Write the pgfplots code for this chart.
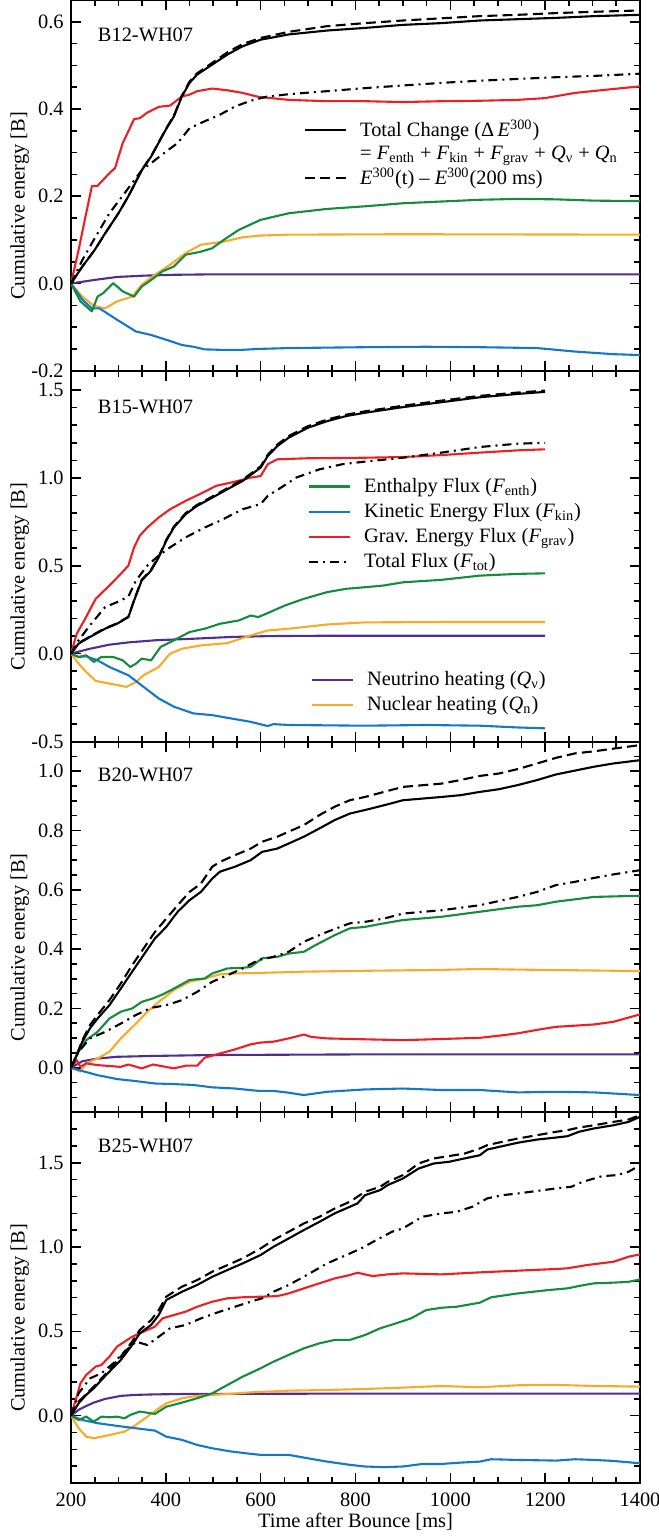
\documentclass[border=0pt]{standalone}
\usepackage{fontspec}
\setmainfont{Liberation Serif}
\usepackage{pgfplots}
\pgfplotsset{compat=1.18}
\definecolor{cgreen}{RGB}{20,140,60}
\definecolor{cblue}{RGB}{20,120,200}
\definecolor{cred}{RGB}{237,30,36}
\definecolor{corange}{RGB}{250,170,40}
\definecolor{cpurple}{RGB}{80,45,145}
\newcommand\myfont{\fontsize{10.2bp}{12bp}\selectfont}
\pgfplotsset{
  panel/.style={
    scale only axis, width=284.5bp, height=185.375bp,
    xmin=200, xmax=1400, xtick={200,400,...,1400}, minor x tick num=3,
    tick align=inside, tick pos=both,
    axis line style={line width=1bp},
    major tick length=5bp, minor tick length=3bp,
    tick style={black, line width=0.8bp},
    xticklabels={},
    yticklabel style={font=\myfont, inner sep=0pt, xshift=-3.5bp},
    ylabel={Cumulative energy [B]},
    every axis y label/.style={at={(rel axis cs:-0.1072,0.445)}, rotate=90, anchor=north, inner sep=0pt, font=\myfont},
    every axis plot/.append style={line width=1.05bp, line join=round},
    legend cell align=left,
    legend image code/.code={\draw[##1, line width=1.05bp] (0bp,0bp) -- (20.5bp,0bp);},
  },
  dsh/.style={dash pattern=on 5bp off 2.6bp},
  dshdot/.style={dash pattern=on 4.5bp off 2.5bp on 1bp off 2.5bp},
}
\begin{document}
\begin{tikzpicture}
\useasboundingbox (-35.5bp,-768bp) rectangle (294bp,0bp);
% ---------------- Panel 1 ----------------
\begin{axis}[panel, at={(0,0)}, anchor=north west,
  ymin=-0.2, ymax=0.65, ytick={-0.2,0,0.2,0.4,0.6}, yticklabels={-0.2,0.0,0.2,0.4,0.6},
  minor ytick={-0.15,-0.1,-0.05,0.05,0.1,0.15,0.25,0.3,0.35,0.45,0.5,0.55},
  legend style={at={(rel axis cs:0.409,0.585)}, anchor=west, draw=none, fill=none, inner sep=0pt, font=\myfont, row sep=3bp, column sep=6.5bp, nodes={inner sep=0pt}}]
\addplot[cpurple, forget plot] coordinates {(200,0) (248,0.008) (297,0.015) (353,0.018) (417,0.020) (498,0.021) (1400,0.021)};
\addplot[corange, forget plot] coordinates {(200,0) (224,-0.030) (248,-0.051) (272,-0.057) (297,-0.041) (329,-0.030) (349,-0.003) (377,0.020) (409,0.043) (442,0.070) (474,0.089) (522,0.096) (562,0.106) (600,0.110) (659,0.112) (900,0.113) (1400,0.112)};
\addplot[cblue, forget plot] coordinates {(200,0) (224,-0.037) (244,-0.057) (260,-0.057) (297,-0.083) (337,-0.110) (369,-0.118) (401,-0.129) (434,-0.141) (458,-0.145) (482,-0.151) (514,-0.152) (562,-0.152) (595,-0.150) (659,-0.148) (820,-0.146) (949,-0.145) (1062,-0.146) (1183,-0.148) (1263,-0.156) (1344,-0.162) (1400,-0.164)};
\addplot[cgreen, forget plot] coordinates {(200,0) (220,-0.041) (244,-0.064) (256,-0.030) (268,-0.022) (289,0.001) (309,-0.018) (333,-0.030) (349,-0.007) (369,0.008) (393,0.028) (417,0.039) (442,0.066) (474,0.073) (498,0.081) (522,0.100) (554,0.123) (600,0.146) (659,0.161) (740,0.171) (820,0.177) (900,0.184) (981,0.188) (1062,0.192) (1142,0.194) (1223,0.193) (1303,0.190) (1400,0.189)};
\addplot[cred, forget plot] coordinates {(200,0) (216,0.077) (232,0.161) (244,0.223) (256,0.224) (281,0.253) (293,0.265) (309,0.322) (321,0.349) (333,0.377) (345,0.379) (361,0.392) (385,0.405) (409,0.408) (434,0.429) (450,0.433) (466,0.441) (498,0.447) (530,0.443) (562,0.437) (595,0.428) (659,0.421) (740,0.418) (820,0.418) (900,0.416) (981,0.418) (1062,0.419) (1142,0.421) (1199,0.425) (1263,0.437) (1344,0.446) (1400,0.452)};
\addplot[black, dshdot, forget plot] coordinates {(200,0) (224,0.054) (248,0.100) (281,0.161) (313,0.207) (350,0.261) (369,0.276) (401,0.303) (425,0.322) (450,0.356) (482,0.372) (514,0.387) (546,0.406) (579,0.419) (611,0.428) (659,0.434) (740,0.441) (820,0.448) (900,0.454) (981,0.460) (1062,0.465) (1142,0.469) (1223,0.473) (1303,0.476) (1400,0.481)};
\addplot[black, dsh, forget plot] coordinates {(200,0) (224,0.039) (250,0.077) (272,0.115) (300,0.161) (321,0.200) (350,0.262) (369,0.292) (400,0.354) (417,0.385) (434,0.431) (450,0.463) (466,0.482) (498,0.506) (530,0.530) (562,0.549) (600,0.563) (659,0.577) (740,0.590) (820,0.597) (900,0.603) (981,0.608) (1062,0.613) (1142,0.616) (1223,0.620) (1303,0.623) (1400,0.626)};
\addplot[black, forget plot] coordinates {(200,0) (224,0.039) (250,0.077) (272,0.115) (300,0.161) (321,0.200) (350,0.261) (369,0.291) (400,0.353) (417,0.383) (434,0.429) (450,0.460) (466,0.479) (498,0.502) (530,0.525) (562,0.544) (600,0.559) (659,0.571) (740,0.580) (820,0.586) (900,0.593) (981,0.597) (1062,0.603) (1142,0.606) (1223,0.609) (1303,0.613) (1400,0.616)};
\addlegendimage{black}
\addlegendentry{Total Change (Δ\,\textit{E}\textsuperscript{300})}
\addlegendimage{empty legend}
\addlegendentry{= \textit{F}\textsubscript{enth} + \textit{F}\textsubscript{kin} + \textit{F}\textsubscript{grav} + \textit{Q}\textsubscript{ν} + \textit{Q}\textsubscript{n}}
\addlegendimage{black, dsh}
\addlegendentry{\textit{E}\textsuperscript{300}(t) -- \textit{E}\textsuperscript{300}(200 ms)}
\node[anchor=west, inner sep=0pt, font=\myfont] at (axis cs:256,0.571) {B12-WH07};
\end{axis}
% ---------------- Panel 2 ----------------
\begin{axis}[panel, at={(0,-185.375bp)}, anchor=north west,
  ymin=-0.5, ymax=1.61, ytick={-0.5,0,0.5,1,1.5}, yticklabels={-0.5,0.0,0.5,1.0,1.5},
  minor ytick={-0.4,-0.3,-0.2,-0.1,0.1,0.2,0.3,0.4,0.6,0.7,0.8,0.9,1.1,1.2,1.3,1.4},
  legend style={at={(rel axis cs:0.416,0.586)}, anchor=west, draw=none, fill=none, inner sep=0pt, font=\myfont, row sep=4bp, column sep=6.5bp, nodes={inner sep=0pt}}]
\addplot[cpurple, forget plot] coordinates {(200,0) (240,0.028) (281,0.051) (321,0.064) (377,0.076) (458,0.085) (538,0.095) (619,0.100) (740,0.102) (1200,0.102)};
\addplot[corange, forget plot] coordinates {(200,0) (216,-0.057) (232,-0.104) (252,-0.155) (281,-0.170) (317,-0.189) (337,-0.161) (353,-0.123) (385,-0.076) (409,0.000) (434,0.028) (474,0.047) (530,0.060) (579,0.104) (615,0.132) (659,0.142) (740,0.166) (820,0.178) (981,0.180) (1200,0.180)};
\addplot[cblue, forget plot] coordinates {(200,0) (216,-0.019) (232,-0.015) (256,-0.038) (281,-0.076) (321,-0.123) (353,-0.189) (385,-0.255) (417,-0.302) (458,-0.340) (498,-0.350) (538,-0.369) (579,-0.388) (615,-0.412) (627,-0.401) (659,-0.406) (820,-0.410) (949,-0.406) (1062,-0.410) (1142,-0.420) (1200,-0.425)};
\addplot[cgreen, forget plot] coordinates {(200,0) (216,-0.019) (232,-0.009) (248,-0.047) (264,-0.019) (289,-0.019) (309,-0.038) (325,-0.076) (337,-0.057) (349,-0.028) (369,-0.038) (389,0.038) (417,0.076) (450,0.123) (482,0.142) (514,0.170) (554,0.189) (579,0.217) (595,0.208) (615,0.231) (651,0.274) (691,0.312) (740,0.350) (780,0.369) (820,0.378) (860,0.388) (900,0.406) (981,0.420) (1062,0.444) (1142,0.454) (1200,0.457)};
\addplot[cred, forget plot] coordinates {(200,0) (212,0.113) (228,0.189) (252,0.312) (281,0.388) (305,0.454) (321,0.501) (333,0.605) (345,0.671) (361,0.718) (385,0.775) (409,0.822) (442,0.870) (474,0.911) (506,0.955) (546,0.979) (579,1.002) (600,1.011) (615,1.078) (635,1.106) (699,1.112) (820,1.115) (900,1.119) (981,1.130) (1062,1.144) (1142,1.157) (1200,1.163)};
\addplot[black, dshdot, forget plot] coordinates {(200,0) (216,0.076) (240,0.161) (272,0.265) (297,0.293) (321,0.325) (337,0.416) (361,0.501) (385,0.558) (409,0.605) (442,0.662) (482,0.718) (514,0.756) (562,0.822) (600,0.851) (615,0.898) (643,0.945) (675,1.002) (724,1.049) (772,1.078) (820,1.093) (900,1.115) (981,1.144) (1062,1.176) (1142,1.195) (1200,1.200)};
\addplot[black, dsh, forget plot] coordinates {(200,0) (216,0.06) (240,0.098) (272,0.145) (297,0.172) (321,0.21) (333,0.305) (349,0.42) (369,0.478) (385,0.553) (401,0.648) (417,0.723) (442,0.8) (466,0.847) (498,0.894) (530,0.942) (562,0.99) (600,1.066) (615,1.132) (635,1.19) (659,1.238) (699,1.294) (740,1.332) (780,1.36) (820,1.379) (900,1.411) (981,1.44) (1062,1.467) (1142,1.486) (1200,1.497)};
\addplot[black, forget plot] coordinates {(200,0) (216,0.057) (240,0.095) (272,0.142) (297,0.170) (321,0.208) (333,0.302) (349,0.416) (369,0.473) (385,0.548) (401,0.643) (417,0.718) (442,0.794) (466,0.841) (498,0.888) (530,0.936) (562,0.983) (600,1.059) (615,1.125) (635,1.181) (659,1.229) (699,1.285) (740,1.323) (780,1.352) (820,1.371) (900,1.403) (981,1.431) (1062,1.459) (1142,1.478) (1200,1.490)};
\addlegendimage{cgreen}
\addlegendentry{Enthalpy Flux (\textit{F}\textsubscript{enth})}
\addlegendimage{cblue}
\addlegendentry{Kinetic Energy Flux (\textit{F}\textsubscript{kin})}
\addlegendimage{cred}
\addlegendentry{Grav. Energy Flux (\textit{F}\textsubscript{grav})}
\addlegendimage{black, dshdot}
\addlegendentry{Total Flux (\textit{F}\textsubscript{tot})}
\node[anchor=west, inner sep=0pt, font=\myfont] at (axis cs:256,1.406) {B15-WH07};
\end{axis}
% second legend of panel 2
\begin{axis}[scale only axis, width=284.5bp, height=185.375bp, at={(0,-185.375bp)}, anchor=north west,
  xmin=200, xmax=1400, ymin=-0.5, ymax=1.61, hide axis,
  legend cell align=left,
  legend image code/.code={\draw[#1, line width=1.05bp] (0bp,0bp) -- (20.5bp,0bp);},
  legend style={at={(rel axis cs:0.421,0.132)}, anchor=west, draw=none, fill=none, inner sep=0pt, font=\myfont, row sep=4bp, column sep=6.5bp, nodes={inner sep=0pt}}]
\addlegendimage{cpurple}
\addlegendentry{Neutrino heating (\textit{Q}\textsubscript{ν})}
\addlegendimage{corange}
\addlegendentry{Nuclear heating (\textit{Q}\textsubscript{n})}
\end{axis}
% ---------------- Panel 3 ----------------
\begin{axis}[panel, at={(0,-370.75bp)}, anchor=north west,
  ymin=-0.15, ymax=1.1, ytick={0,0.2,0.4,0.6,0.8,1.0}, yticklabels={0.0,0.2,0.4,0.6,0.8,1.0},
  minor ytick={-0.1,-0.05,0.05,0.1,0.15,0.25,0.3,0.35,0.45,0.5,0.55,0.65,0.7,0.75,0.85,0.9,0.95,1.05}]
\addplot[cpurple, forget plot] coordinates {(200,0) (224,0.022) (256,0.031) (297,0.037) (377,0.040) (498,0.043) (800,0.045) (1400,0.045)};
\addplot[corange, forget plot] coordinates {(200,0) (212,-0.008) (220,-0.013) (232,0.015) (256,0.031) (281,0.054) (305,0.099) (337,0.149) (361,0.189) (385,0.222) (417,0.262) (450,0.290) (482,0.301) (514,0.315) (546,0.318) (600,0.320) (691,0.324) (820,0.327) (981,0.330) (1062,0.333) (1142,0.331) (1303,0.328) (1400,0.326)};
\addplot[cblue, forget plot] coordinates {(200,0) (224,-0.011) (256,-0.025) (297,-0.038) (337,-0.045) (377,-0.053) (417,-0.055) (458,-0.058) (498,-0.066) (546,-0.070) (595,-0.078) (627,-0.078) (659,-0.084) (691,-0.092) (740,-0.081) (820,-0.073) (900,-0.070) (981,-0.075) (1062,-0.075) (1142,-0.083) (1223,-0.081) (1303,-0.083) (1400,-0.092)};
\addplot[cred, forget plot] coordinates {(200,0) (212,0.026) (220,0.003) (232,0.015) (256,0.009) (305,0.003) (321,0.011) (349,-0.002) (373,0.011) (417,-0.002) (442,0.007) (466,0.007) (482,0.034) (514,0.048) (546,0.062) (579,0.079) (600,0.085) (627,0.088) (659,0.099) (691,0.112) (707,0.104) (740,0.099) (820,0.096) (900,0.093) (981,0.097) (1062,0.101) (1102,0.108) (1142,0.116) (1191,0.130) (1223,0.138) (1303,0.146) (1344,0.155) (1400,0.180)};
\addplot[cgreen, forget plot] coordinates {(200,0) (216,0.054) (232,0.093) (256,0.121) (281,0.166) (305,0.189) (329,0.200) (349,0.222) (373,0.234) (393,0.247) (417,0.267) (450,0.296) (482,0.301) (498,0.318) (530,0.335) (562,0.337) (579,0.340) (603,0.369) (635,0.374) (659,0.385) (691,0.391) (715,0.413) (756,0.447) (788,0.470) (820,0.475) (860,0.487) (900,0.498) (981,0.509) (1062,0.526) (1142,0.543) (1183,0.548) (1223,0.560) (1303,0.576) (1400,0.580)};
\addplot[black, dshdot, forget plot] coordinates {(200,0) (216,0.054) (240,0.099) (272,0.121) (305,0.149) (337,0.178) (369,0.202) (401,0.211) (434,0.228) (466,0.256) (498,0.290) (530,0.312) (562,0.335) (595,0.363) (627,0.374) (659,0.391) (691,0.425) (740,0.458) (788,0.487) (820,0.492) (860,0.503) (900,0.520) (981,0.531) (1062,0.548) (1142,0.576) (1183,0.593) (1223,0.616) (1263,0.627) (1303,0.640) (1344,0.652) (1400,0.666)};
\addplot[black, dsh, forget plot] coordinates {(200,0) (212,0.043) (224,0.093) (240,0.144) (256,0.178) (281,0.228) (305,0.284) (329,0.346) (353,0.402) (377,0.458) (401,0.503) (425,0.548) (450,0.593) (474,0.621) (498,0.678) (514,0.694) (546,0.717) (579,0.739) (603,0.762) (635,0.779) (659,0.796) (691,0.818) (724,0.852) (756,0.880) (788,0.902) (820,0.913) (860,0.930) (900,0.947) (981,0.958) (1021,0.970) (1062,0.984) (1102,0.992) (1142,1.007) (1183,1.026) (1223,1.045) (1263,1.060) (1303,1.067) (1344,1.076) (1400,1.088)};
\addplot[black, forget plot] coordinates {(200,0) (212,0.043) (224,0.088) (240,0.133) (256,0.166) (281,0.211) (305,0.267) (329,0.324) (353,0.380) (377,0.436) (401,0.475) (425,0.526) (450,0.565) (474,0.593) (498,0.638) (514,0.661) (546,0.678) (579,0.700) (603,0.728) (635,0.739) (659,0.756) (691,0.779) (724,0.807) (756,0.835) (788,0.857) (820,0.869) (860,0.885) (900,0.902) (981,0.913) (1021,0.919) (1062,0.930) (1102,0.939) (1142,0.953) (1183,0.970) (1223,0.989) (1263,1.002) (1303,1.015) (1344,1.026) (1400,1.037)};
\node[anchor=west, inner sep=0pt, font=\myfont] at (axis cs:256,0.988) {B20-WH07};
\end{axis}
% ---------------- Panel 4 ----------------
\begin{axis}[panel, at={(0,-556.125bp)}, anchor=north west,
  ymin=-0.4, ymax=1.8, ytick={0,0.5,1,1.5}, yticklabels={0.0,0.5,1.0,1.5},
  minor ytick={-0.3,-0.2,-0.1,0.1,0.2,0.3,0.4,0.6,0.7,0.8,0.9,1.1,1.2,1.3,1.4,1.6,1.7},
  xticklabels={200,400,600,800,1000,1200,1400},
  xticklabel style={font=\myfont, inner sep=0pt, yshift=-5bp},
  xlabel={Time after Bounce [ms]},
  every axis x label/.style={at={(rel axis cs:0.5,0)}, anchor=north, inner sep=0pt, yshift=-15bp, font=\myfont}]
\addplot[cpurple, forget plot] coordinates {(200,0) (216,0.034) (232,0.057) (248,0.077) (272,0.099) (305,0.117) (337,0.123) (377,0.126) (434,0.128) (700,0.130) (1400,0.130)};
\addplot[corange, forget plot] coordinates {(200,0) (216,-0.075) (232,-0.125) (248,-0.134) (264,-0.125) (281,-0.115) (297,-0.105) (313,-0.095) (337,-0.055) (361,-0.006) (385,0.043) (401,0.073) (434,0.103) (466,0.117) (498,0.123) (530,0.128) (579,0.138) (627,0.144) (659,0.148) (740,0.152) (820,0.158) (900,0.166) (981,0.176) (1062,0.168) (1142,0.180) (1223,0.182) (1303,0.176) (1400,0.172)};
\addplot[cblue, forget plot] coordinates {(200,0) (224,-0.026) (256,-0.045) (297,-0.061) (337,-0.075) (377,-0.089) (401,-0.125) (434,-0.144) (466,-0.174) (498,-0.194) (538,-0.213) (579,-0.227) (600,-0.233) (659,-0.233) (699,-0.253) (740,-0.273) (788,-0.292) (820,-0.302) (860,-0.306) (900,-0.302) (941,-0.287) (981,-0.287) (1021,-0.279) (1062,-0.273) (1086,-0.259) (1142,-0.263) (1223,-0.267) (1263,-0.259) (1303,-0.263) (1344,-0.269) (1400,-0.283)};
\addplot[cgreen, forget plot] coordinates {(200,0) (216,-0.026) (232,-0.006) (248,-0.036) (264,-0.006) (281,-0.010) (297,-0.006) (313,-0.016) (325,0.004) (345,0.024) (377,0.010) (401,0.053) (434,0.077) (466,0.103) (498,0.132) (530,0.182) (562,0.231) (600,0.281) (627,0.320) (659,0.360) (691,0.399) (724,0.429) (756,0.449) (788,0.449) (820,0.478) (852,0.518) (885,0.547) (917,0.577) (949,0.626) (981,0.640) (1013,0.646) (1062,0.670) (1086,0.702) (1142,0.725) (1207,0.745) (1247,0.755) (1271,0.769) (1303,0.785) (1344,0.789) (1376,0.794) (1400,0.808)};
\addplot[cred, forget plot] coordinates {(200,0) (212,0.113) (220,0.192) (232,0.241) (244,0.271) (252,0.291) (264,0.300) (281,0.350) (297,0.409) (313,0.439) (329,0.468) (353,0.498) (377,0.528) (393,0.577) (417,0.597) (442,0.617) (466,0.646) (498,0.676) (530,0.696) (562,0.702) (603,0.706) (635,0.709) (659,0.725) (691,0.755) (724,0.785) (756,0.814) (788,0.834) (804,0.848) (836,0.828) (868,0.838) (900,0.844) (981,0.838) (1062,0.850) (1142,0.860) (1223,0.870) (1247,0.874) (1287,0.893) (1344,0.913) (1376,0.943) (1400,0.957)};
\addplot[black, dshdot, forget plot] coordinates {(200,0) (216,0.132) (240,0.221) (264,0.251) (289,0.310) (313,0.379) (337,0.439) (361,0.419) (385,0.468) (409,0.518) (442,0.538) (474,0.577) (514,0.617) (546,0.646) (579,0.676) (603,0.696) (627,0.735) (659,0.775) (691,0.824) (740,0.903) (788,0.962) (812,0.992) (844,1.042) (877,1.091) (900,1.111) (941,1.180) (981,1.200) (1013,1.209) (1046,1.239) (1078,1.289) (1110,1.308) (1142,1.318) (1223,1.348) (1255,1.358) (1279,1.387) (1320,1.421) (1352,1.427) (1376,1.447) (1400,1.486)};
\addplot[black, dsh, forget plot] coordinates {(200,0) (216,0.083) (248,0.172) (281,0.271) (305,0.350) (329,0.439) (345,0.508) (369,0.567) (385,0.626) (401,0.706) (434,0.765) (466,0.804) (498,0.854) (530,0.893) (562,0.933) (600,0.992) (627,1.042) (659,1.091) (691,1.140) (724,1.180) (756,1.229) (788,1.269) (820,1.328) (852,1.358) (868,1.387) (900,1.427) (933,1.496) (965,1.526) (997,1.540) (1030,1.555) (1062,1.585) (1078,1.605) (1110,1.625) (1142,1.644) (1183,1.664) (1223,1.684) (1247,1.694) (1271,1.709) (1303,1.723) (1344,1.743) (1376,1.757) (1400,1.783)};
\addplot[black, forget plot] coordinates {(200,0) (216,0.073) (232,0.123) (248,0.162) (264,0.211) (281,0.261) (305,0.330) (329,0.419) (345,0.488) (369,0.538) (385,0.597) (401,0.686) (434,0.735) (466,0.775) (498,0.824) (530,0.864) (562,0.903) (600,0.953) (627,1.002) (659,1.051) (691,1.101) (724,1.150) (756,1.200) (788,1.239) (804,1.259) (820,1.308) (852,1.338) (868,1.368) (900,1.407) (933,1.466) (965,1.496) (997,1.506) (1030,1.526) (1062,1.545) (1078,1.579) (1110,1.599) (1142,1.619) (1183,1.638) (1223,1.650) (1247,1.658) (1271,1.684) (1303,1.704) (1344,1.723) (1376,1.743) (1400,1.773)};
\node[anchor=west, inner sep=0pt, font=\myfont] at (axis cs:256,1.603) {B25-WH07};
\end{axis}
\end{tikzpicture}
\end{document}
